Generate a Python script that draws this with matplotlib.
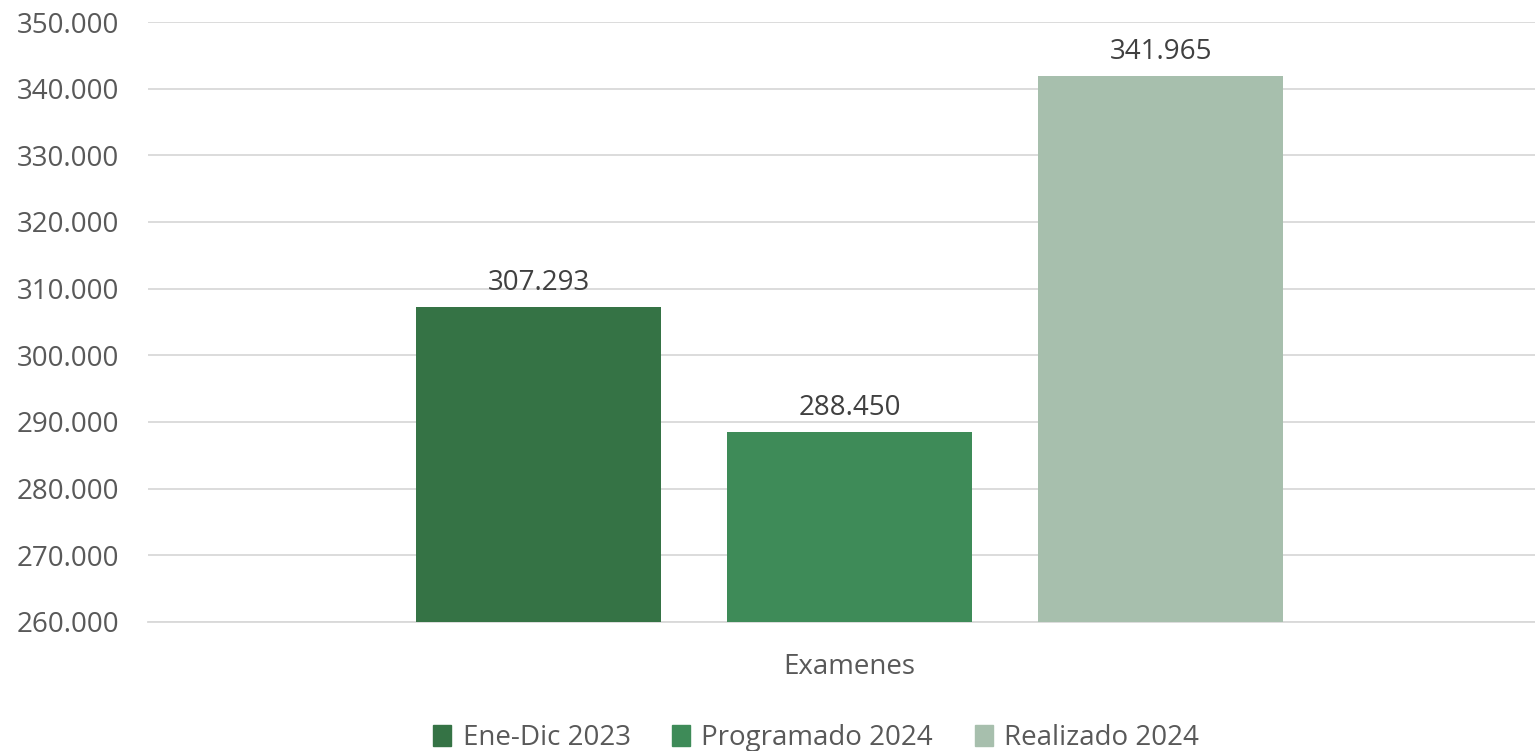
#!/usr/bin/env python3
"""Examenes: Ene-Dic 2023 vs programado / realizado 2024 -> out.png"""
import matplotlib
matplotlib.use("Agg")
import matplotlib.pyplot as plt
import numpy as np

SERIES = ["Ene-Dic 2023", "Programado 2024", "Realizado 2024"]
VALUES = [307293, 288450, 341965]
CATEGORY = "Examenes"
COLORS = ["#357345", "#3E8B58", "#A7BFAD"]
TXT = "#595959"
LBL = "#404040"

plt.rcParams.update({"font.family": ["Open Sans", "DejaVu Sans"], "font.size": 20})


def fmt(v):
    return f"{v:,.0f}".replace(",", ".")


fig = plt.figure(figsize=(15.35, 7.51), dpi=100)
ax = fig.add_axes([0.0964, 0.1718, 0.9036, 0.7989])

x = np.arange(len(VALUES)) - 1
bars = ax.bar(x, VALUES, width=0.788, color=COLORS, zorder=3)
for xi, v in zip(x, VALUES):
    ax.text(xi, v + 1500, fmt(v), ha="center", va="bottom", color=LBL, fontsize=20)

ax.set_ylim(260000, 350000)
ax.set_xlim(-2.256, 2.204)
ax.set_yticks(np.arange(260000, 350001, 10000))
ax.set_yticklabels([fmt(t) for t in np.arange(260000, 350001, 10000)], color=TXT)
ax.tick_params(axis="y", length=0, pad=21)
ax.set_xticks([0])
ax.set_xticklabels([CATEGORY], color=TXT)
ax.tick_params(axis="x", length=0, pad=22)
ax.grid(axis="y", color="#d9d9d9", lw=1.3, zorder=0)
for s in ["top", "right", "left"]:
    ax.spines[s].set_visible(False)
ax.spines["bottom"].set_color("#d9d9d9")
ax.spines["bottom"].set_linewidth(1.3)

handles = [plt.Rectangle((0, 0), 1, 1, color=c) for c in COLORS]
leg = fig.legend(handles, SERIES, loc="center", bbox_to_anchor=(0.5316, 0.017), ncol=3,
                 frameon=False, handlelength=0.65, handleheight=0.75, handletextpad=0.4,
                 columnspacing=1.5, fontsize=20)
for t in leg.get_texts():
    t.set_color(TXT)

fig.savefig("out.png", dpi=100)
